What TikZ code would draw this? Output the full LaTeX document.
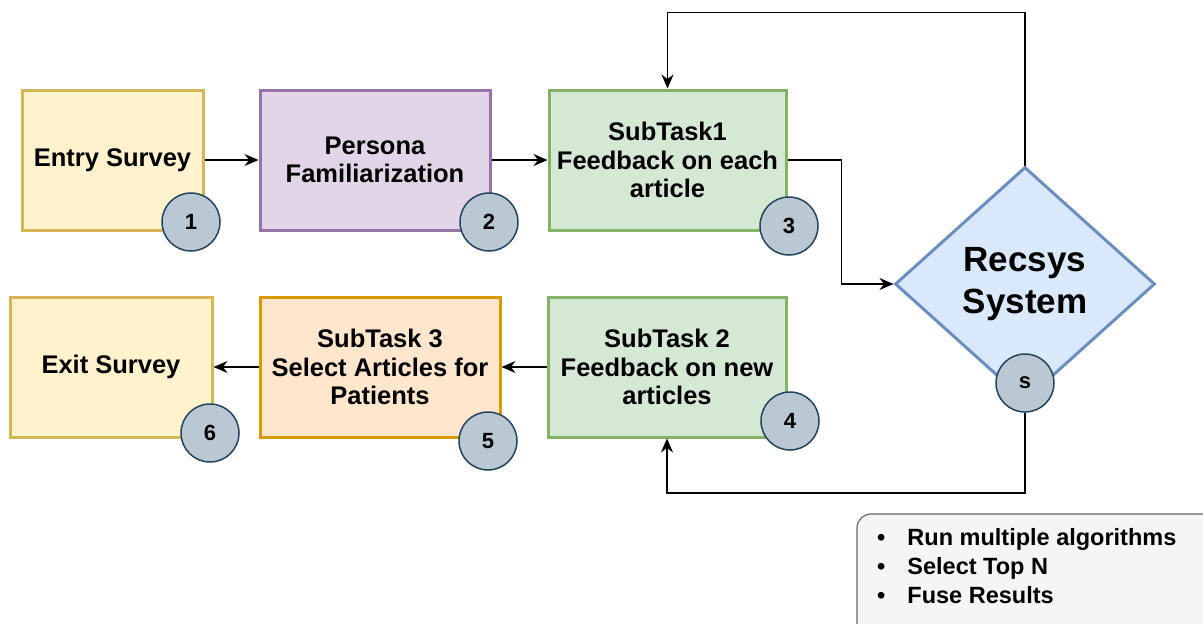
\documentclass[tikz,border=0pt]{standalone}
\usepackage{fontspec}
\setmainfont{Liberation Sans}
\usetikzlibrary{shapes.geometric,arrows.meta}

\definecolor{yelFill}{HTML}{FFF2CC}
\definecolor{yelLine}{HTML}{D6B656}
\definecolor{purFill}{HTML}{E1D5E7}
\definecolor{purLine}{HTML}{9673A6}
\definecolor{grnFill}{HTML}{D5E8D4}
\definecolor{grnLine}{HTML}{82B366}
\definecolor{orgFill}{HTML}{FFE6CC}
\definecolor{orgLine}{HTML}{D79B00}
\definecolor{bluFill}{HTML}{DAE8FC}
\definecolor{bluLine}{HTML}{6C8EBF}
\definecolor{numFill}{HTML}{BAC8D3}
\definecolor{numLine}{HTML}{23445D}
\definecolor{noteFill}{HTML}{F5F5F5}
\definecolor{noteLine}{HTML}{666666}

\tikzset{
  box/.style={draw, line width=3pt, minimum height=140pt, inner sep=2pt, align=center,
    font=\fontsize{25.5}{28.5}\selectfont\bfseries},
  num/.style={circle, draw=numLine, fill=numFill, line width=1.5pt, minimum size=58pt,
    inner sep=0pt, font=\fontsize{22}{26}\selectfont\bfseries},
  arr/.style={-{Stealth[length=14pt,width=12pt]}, line width=1.8pt},
}

\begin{document}
\begin{tikzpicture}[x=1pt,y=-1pt]
\clip (0,0) rectangle (1203,624);
% first row
\node[box, draw=yelLine, fill=yelFill, minimum width=181pt] (entry) at (112.5,160) {Entry Survey};
\node[box, draw=purLine, fill=purFill, minimum width=230pt] (persona) at (375,160) {Persona\\Familiarization};
\node[box, draw=grnLine, fill=grnFill, minimum width=237pt] (task1) at (667.5,160) {SubTask1\\Feedback on each\\article};
% second row
\node[box, draw=yelLine, fill=yelFill, minimum width=202pt] (exit) at (111,367) {Exit Survey};
\node[box, draw=orgLine, fill=orgFill, minimum width=240pt] (task3) at (380,367) {SubTask 3\\Select Articles for\\Patients};
\node[box, draw=grnLine, fill=grnFill, minimum width=238pt] (task2) at (667,367) {SubTask 2\\Feedback on new\\articles};
% recommender
\node[diamond, draw=bluLine, fill=bluFill, line width=3pt, minimum width=260pt, minimum height=234pt,
  inner sep=0pt, align=center, font=\fontsize{35}{42}\selectfont\bfseries] (recsys) at (1025,284) {Recsys\\System};

\draw[arr] (entry) -- (persona);
\draw[arr] (persona) -- (task1);
\draw[arr] (task1.east) -- ++(54,0) |- (recsys.west);
\draw[arr] (recsys.north) -- ++(0,-153) -| (task1.north);
\draw[arr] (task2) -- (task3);
\draw[arr] (task3) -- (exit);

% step numbers
\node[num] (n1) at (191,222) {1};
\node[num] (n2) at (489,222) {2};
\node[num] (n3) at (789,226) {3};
\node[num] (n4) at (790,421) {4};
\node[num] (n5) at (488,441) {5};
\node[num] (n6) at (210,433) {6};
\node[num] (ns) at (1025,383) {s};

\draw[arr] (ns.south) -- ++(0,80) -| (task2.south);

% note
\draw[draw=noteLine, fill=noteFill, line width=1.2pt, rounded corners=14pt] (857,514) rectangle (1225,650);
\node[anchor=north west, inner sep=0pt, font=\fontsize{23.5}{29}\selectfont\bfseries] (steps) at (877,525)
  {\begin{tabular}{@{}l@{\hspace{22pt}}l@{}}
   \textbullet & Run multiple algorithms\\
   \textbullet & Select Top N\\
   \textbullet & Fuse Results
   \end{tabular}};
\end{tikzpicture}
\end{document}
